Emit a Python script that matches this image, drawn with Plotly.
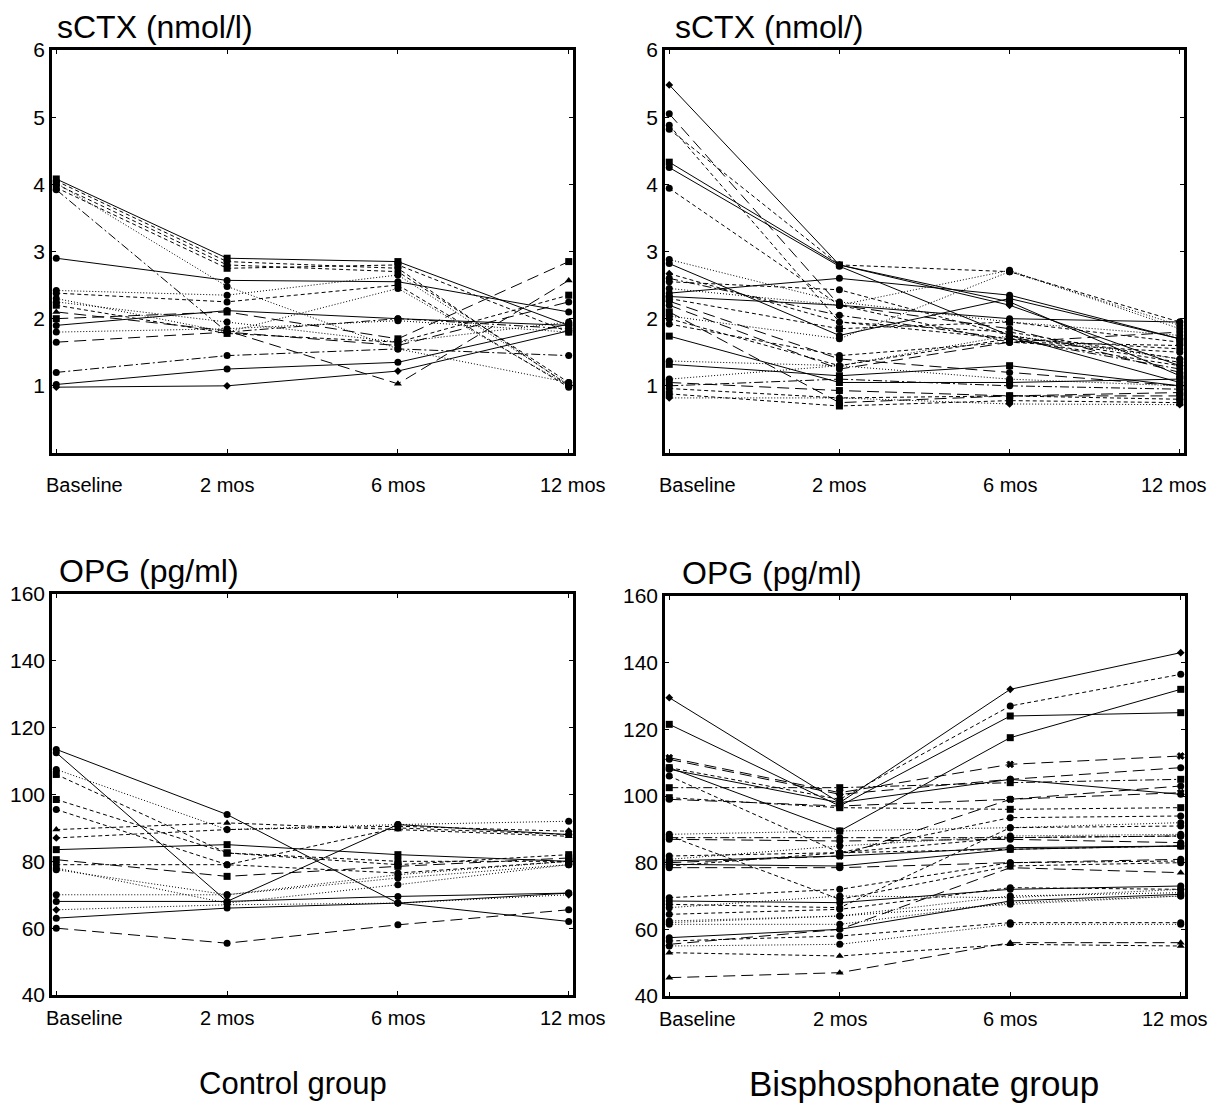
import plotly.graph_objects as go

# Visit positions and their labels
visits = [0, 1, 2, 3]
visit_labels = ["Baseline", "2 mos", "6 mos", "12 mos"]

# Serum CTX (nmol/l), one row per patient: baseline, 2, 6, 12 months
ctx_control = [
    [4.08, 2.90, 2.85, 1.90],
    [4.05, 2.85, 2.75, 1.00],
    [4.00, 2.80, 2.70, 1.05],
    [3.95, 2.75, 2.80, 1.80],
    [3.92, 1.80, 2.00, 1.85],
    [4.02, 2.48, 1.55, 1.05],
    [2.90, 2.57, 2.55, 2.10],
    [2.42, 2.35, 2.65, 1.02],
    [2.38, 2.25, 2.50, 0.98],
    [2.30, 1.80, 2.45, 1.00],
    [2.25, 1.95, 1.65, 1.95],
    [2.20, 1.78, 1.65, 2.35],
    [1.90, 2.12, 2.00, 1.90],
    [2.00, 2.10, 1.70, 2.85],
    [1.80, 1.85, 1.97, 1.80],
    [1.65, 1.80, 1.60, 2.25],
    [1.20, 1.45, 1.55, 1.45],
    [1.02, 1.25, 1.35, 1.92],
    [0.98, 1.00, 1.22, 1.82],
    [2.10, 1.82, 1.03, 2.57],
]

ctx_bisph = [
    [5.48, 2.80, 2.20, 1.30],
    [5.05, 2.20, 1.85, 1.20],
    [4.88, 1.95, 1.70, 1.30],
    [4.82, 2.80, 2.70, 1.95],
    [4.33, 2.80, 2.25, 1.15],
    [4.25, 2.78, 1.75, 1.05],
    [3.94, 2.20, 1.65, 1.60],
    [2.88, 2.25, 1.95, 1.75],
    [2.82, 1.75, 2.30, 1.70],
    [2.67, 1.95, 1.80, 1.40],
    [2.55, 2.43, 1.75, 1.35],
    [2.38, 2.60, 2.35, 1.70],
    [2.33, 2.20, 2.00, 1.95],
    [2.26, 1.40, 1.20, 1.00],
    [2.30, 1.85, 1.95, 1.65],
    [2.04, 1.70, 2.70, 1.90],
    [2.00, 1.30, 1.70, 1.55],
    [1.92, 1.45, 1.65, 1.50],
    [1.74, 1.05, 1.05, 1.10],
    [1.37, 1.30, 1.10, 1.00],
    [1.32, 1.15, 1.30, 1.00],
    [1.10, 1.30, 1.75, 1.40],
    [1.05, 0.93, 0.85, 0.90],
    [0.96, 0.82, 0.85, 0.80],
    [0.82, 0.82, 0.73, 0.72],
    [2.10, 0.75, 0.85, 0.85],
    [2.60, 2.05, 1.70, 1.25],
    [1.00, 1.10, 1.00, 0.95],
    [2.20, 1.25, 1.65, 1.80],
    [0.88, 0.70, 0.78, 0.75],
    [2.45, 2.20, 2.72, 1.85],
]

# Serum OPG (pg/ml)
opg_control = [
    [113.5, 94.0, 67.5, 62.0],
    [112.5, 68.0, 91.0, 88.0],
    [107.5, 89.5, 91.0, 92.0],
    [106.0, 82.5, 80.0, 80.0],
    [98.5, 82.5, 79.0, 82.0],
    [95.5, 79.0, 76.5, 80.0],
    [89.5, 91.5, 89.5, 87.5],
    [87.0, 89.5, 90.5, 89.0],
    [83.5, 85.0, 82.0, 80.0],
    [80.5, 75.5, 78.5, 81.0],
    [79.0, 79.0, 90.0, 88.0],
    [77.5, 70.0, 76.0, 80.0],
    [70.0, 70.0, 75.0, 79.0],
    [68.0, 68.0, 69.5, 70.5],
    [65.5, 67.0, 67.5, 70.0],
    [63.0, 66.0, 67.5, 70.5],
    [60.0, 55.5, 61.0, 65.5],
    [78.0, 67.5, 73.0, 79.0],
]

opg_bisph = [
    [129.5, 98.0, 132.0, 143.0],
    [121.5, 97.0, 124.0, 125.0],
    [108.5, 99.0, 127.0, 136.5],
    [108.5, 89.5, 117.5, 132.0],
    [111.5, 101.0, 109.5, 112.0],
    [111.0, 100.5, 105.0, 108.5],
    [108.0, 98.0, 105.0, 100.5],
    [102.5, 102.5, 104.0, 105.0],
    [99.5, 96.5, 96.0, 96.5],
    [99.0, 97.0, 99.0, 103.0],
    [106.0, 83.0, 93.5, 94.0],
    [88.5, 89.5, 90.5, 92.0],
    [87.5, 87.5, 87.5, 88.0],
    [87.0, 86.5, 87.0, 86.0],
    [88.0, 69.0, 79.0, 80.0],
    [82.0, 83.0, 84.0, 85.0],
    [80.5, 82.0, 84.5, 85.0],
    [79.5, 79.0, 84.0, 85.0],
    [78.5, 78.5, 80.0, 81.0],
    [81.0, 85.0, 88.0, 88.5],
    [69.5, 72.0, 80.0, 80.5],
    [68.5, 68.0, 72.0, 73.0],
    [66.5, 70.0, 69.5, 72.0],
    [64.5, 66.0, 72.5, 72.0],
    [62.5, 64.0, 70.0, 71.0],
    [61.5, 61.5, 68.0, 70.0],
    [57.5, 60.0, 68.5, 70.5],
    [56.5, 58.0, 62.0, 62.0],
    [55.0, 55.5, 61.5, 61.5],
    [53.0, 52.0, 55.5, 55.0],
    [45.5, 47.0, 56.0, 56.0],
    [55.5, 60.0, 78.5, 77.0],
    [67.5, 66.5, 90.5, 91.0],
    [80.0, 82.0, 99.0, 101.0],
    [79.0, 83.0, 87.5, 88.0],
    [62.0, 64.0, 67.5, 70.0],
]

# Line patterns used for the individual patient traces
DASH = {
    "solid": "solid",
    "dot": "1px,2px",
    "dash": "4px,3px",
    "long": "12px,6px",
    "dashdot": "9px,3px,2px,3px",
}
SYMBOL = {"o": "circle", "s": "square", "t": "triangle-up", "d": "diamond", "x": "x"}
SIZE = {"o": 7, "s": 7, "t": 7, "d": 6, "x": 6}

ctx_control_line = ["solid", "dash", "dash", "dash", "dashdot", "dot", "solid", "dot", "dash", "dot",
                    "dot", "dash", "solid", "long", "dot", "long", "dashdot", "solid", "solid", "long"]
ctx_control_mark = ["s", "o", "o", "s", "o", "o", "o", "o", "o", "o",
                    "o", "s", "o", "s", "o", "o", "o", "o", "d", "t"]

ctx_bisph_line = ["solid", "long", "dash", "dash", "solid", "solid", "dash", "dot", "solid", "dash",
                  "dash", "solid", "solid", "long", "dash", "dot", "dash", "dash", "solid", "dot",
                  "solid", "dot", "long", "dash", "dot", "long", "dashdot", "dashdot", "long", "dash",
                  "dot"]
ctx_bisph_mark = ["d", "o", "o", "o", "s", "o", "o", "o", "o", "d",
                  "o", "o", "o", "o", "s", "o", "o", "o", "s", "o",
                  "s", "o", "s", "o", "d", "s", "o", "o", "o", "s",
                  "o"]

opg_control_line = ["solid", "solid", "dot", "dash", "dash", "dash", "dash", "dash", "solid", "long",
                    "dash", "dot", "dot", "solid", "dot", "solid", "long", "dot"]
opg_control_mark = ["o", "o", "o", "s", "s", "o", "t", "d", "s", "s",
                    "o", "o", "o", "o", "d", "o", "o", "o"]

opg_bisph_line = ["solid", "solid", "dash", "solid", "long", "long", "solid", "dashdot", "dash", "long",
                  "dash", "dot", "dashdot", "long", "dash", "dash", "solid", "solid", "long", "dot",
                  "dash", "solid", "dot", "dash", "dot", "dot", "solid", "dash", "dot", "dash",
                  "long", "long", "dash", "long", "dash", "dot"]
opg_bisph_mark = ["d", "s", "o", "s", "x", "o", "o", "s", "s", "o",
                  "o", "o", "o", "o", "o", "o", "o", "s", "o", "o",
                  "o", "o", "o", "o", "o", "o", "o", "o", "o", "t",
                  "t", "t", "o", "x", "o", "o"]

# Panel placement in pixels (left, right, top, bottom) within a 1225 x 1113 page
W, H = 1225, 1113
panels = [
    dict(data=ctx_control, line=ctx_control_line, mark=ctx_control_mark,
         box=(52, 573, 50, 453), yrange=[0, 6], ticks=[1, 2, 3, 4, 5, 6], title="sCTX (nmol/l)",
         title_left=55),
    dict(data=ctx_bisph, line=ctx_bisph_line, mark=ctx_bisph_mark,
         box=(665, 1184, 50, 453), yrange=[0, 6], ticks=[1, 2, 3, 4, 5, 6], title="sCTX (nmol/)",
         title_left=673),
    dict(data=opg_control, line=opg_control_line, mark=opg_control_mark,
         box=(52, 573, 594, 995), yrange=[40, 160], ticks=[40, 60, 80, 100, 120, 140, 160], title="OPG (pg/ml)",
         title_left=57),
    dict(data=opg_bisph, line=opg_bisph_line, mark=opg_bisph_mark,
         box=(665, 1185, 596, 996), yrange=[40, 160], ticks=[40, 60, 80, 100, 120, 140, 160], title="OPG (pg/ml)",
         title_left=680),
]

FONT = "Liberation Sans, Arial, Helvetica, sans-serif"

fig = go.Figure()
annotations = []
layout_axes = {}

for i, p in enumerate(panels, start=1):
    xa = "x" if i == 1 else f"x{i}"
    ya = "y" if i == 1 else f"y{i}"
    left, right, top, bottom = p["box"]
    xdom = [left / W, right / W]
    ydom = [1 - bottom / H, 1 - top / H]

    for row, ls, mk in zip(p["data"], p["line"], p["mark"]):
        fig.add_trace(go.Scatter(
            x=visits, y=row, xaxis=xa, yaxis=ya, mode="lines+markers",
            line=dict(color="black", width=1, dash=DASH[ls]),
            marker=dict(color="black", symbol=SYMBOL[mk], size=SIZE[mk],
                        line=dict(color="black", width=1 if mk == "x" else 0)),
            showlegend=False, hoverinfo="skip",
        ))

    axis_common = dict(showline=True, linecolor="black", linewidth=2.5, mirror="ticks",
                       ticks="inside", ticklen=4, tickwidth=1, tickcolor="black",
                       showgrid=False, zeroline=False, automargin=False)
    layout_axes[("xaxis" if i == 1 else f"xaxis{i}")] = dict(
        domain=xdom, range=[-0.025, 3.025], tickvals=visits, showticklabels=False,
        anchor=ya, **axis_common)
    layout_axes[("yaxis" if i == 1 else f"yaxis{i}")] = dict(
        domain=ydom, range=p["yrange"], tickvals=p["ticks"], anchor=xa,
        tickfont=dict(family=FONT, size=21, color="black"), **axis_common)

    # Visit labels under each panel
    label_y = 1 - (bottom + 32 if i <= 2 else bottom + 23) / H
    for v, lab in zip(visits, visit_labels):
        if v == 0:
            annotations.append(dict(x=v, xref=xa, y=label_y, yref="paper", text=lab,
                                    xanchor="left", yanchor="middle", xshift=-12, showarrow=False,
                                    font=dict(family=FONT, size=20, color="black")))
        else:
            shift = 4 if (v == 3 and i % 2 == 1) else (-6 if v == 3 else 0)
            annotations.append(dict(x=v, xref=xa, y=label_y, yref="paper", text=lab,
                                    xanchor="center", yanchor="middle", xshift=shift, showarrow=False,
                                    font=dict(family=FONT, size=20, color="black")))

    # Panel heading above the frame
    annotations.append(dict(x=p["title_left"] / W, xref="paper", y=1 - (top - 23) / H, yref="paper",
                            text=p["title"], xanchor="left", yanchor="middle", showarrow=False,
                            font=dict(family=FONT, size=32, color="black")))

# Group captions
annotations.append(dict(x=293 / W, xref="paper", y=1 - 1083 / H, yref="paper", text="Control group",
                        xanchor="center", yanchor="middle", showarrow=False,
                        font=dict(family=FONT, size=31, color="black")))
annotations.append(dict(x=924 / W, xref="paper", y=1 - 1083 / H, yref="paper", text="Bisphosphonate group",
                        xanchor="center", yanchor="middle", showarrow=False,
                        font=dict(family=FONT, size=35, color="black")))

fig.update_layout(
    width=W, height=H, margin=dict(l=0, r=0, t=0, b=0, autoexpand=False),
    paper_bgcolor="white", plot_bgcolor="white",
    font=dict(family=FONT, color="black"),
    annotations=annotations, showlegend=False,
    **layout_axes,
)

fig.write_html("out.html")
